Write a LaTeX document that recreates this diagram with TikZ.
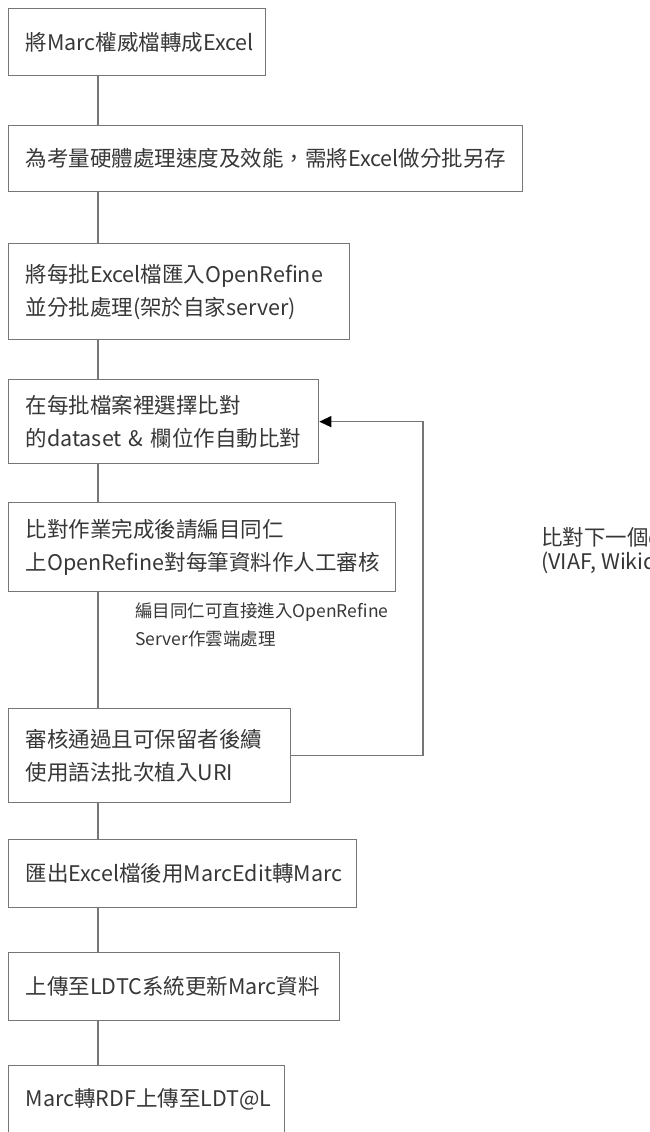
\documentclass[tikz,border=0pt]{standalone}
\usepackage{fontspec}
\setmainfont{Noto Sans CJK TC}
\usepackage{xcolor}
\usepackage{tikz}
\usetikzlibrary{arrows.meta}
\definecolor{boxgray}{RGB}{118,118,118}
\definecolor{textgray}{RGB}{55,55,55}
\tikzset{
  stepbox/.style 2 args={draw=boxgray, line width=1.3pt, anchor=north west, align=left,
    text width=#1pt-34pt, minimum height=#2pt, inner xsep=17pt, inner ysep=0pt,
    text=textgray, font=\fontsize{21.5}{33}\selectfont},
  flow/.style={draw=boxgray, line width=1.3pt}
}

\begin{document}
\begin{tikzpicture}[x=1pt,y=-1pt]
    \clip (0,0) rectangle (649,1132);
    \coordinate (sp) at (98,0);
    \coordinate (rt) at (423,0);
    \node[stepbox={257}{67}] (b1) at (8,8) {將Marc權威檔轉成Excel};
    \node[stepbox={514}{66}] (b2) at (8,125) {為考量硬體處理速度及效能，需將Excel做分批另存};
    \node[stepbox={341}{96}] (b3) at (8,243) {將每批Excel檔匯入OpenRefine\\並分批處理(架於自家server)};
    \node[stepbox={310}{84}] (b4) at (8,379) {在每批檔案裡選擇比對\\的dataset~\&~欄位作自動比對};
    \node[stepbox={387}{89}] (b5) at (8,502) {比對作業完成後請編目同仁\\上OpenRefine對每筆資料作人工審核};
    \node[stepbox={282}{94}] (b6) at (8,708) {審核通過且可保留者後續\\使用語法批次植入URI};
    \node[stepbox={348}{68}] (b7) at (8,839) {匯出Excel檔後用MarcEdit轉Marc};
    \node[stepbox={331}{68}] (b8) at (8,952) {上傳至LDTC系統更新Marc資料};
    \node[stepbox={276}{68}] (b9) at (8,1065) {Marc轉RDF上傳至LDT@L};
    \node[anchor=north west, inner sep=0pt, align=left, text=textgray,
      font=\fontsize{17.5}{28}\selectfont] (note) at (135,603)
      {編目同仁可直接進入OpenRefine\\Server作雲端處理};
    \node[anchor=north west, inner sep=0pt, align=left, text=textgray,
      font=\fontsize{21.5}{24}\selectfont] (loop) at (541,527)
      {比對下一個dataset\\(VIAF, Wikidata)};
    \foreach \a/\b in {b1/b2,b2/b3,b3/b4,b4/b5,b5/b6,b6/b7,b7/b8,b8/b9}
      \draw[flow] (\a.south -| sp) -- (\b.north -| sp);
    \draw[flow,-{Triangle[length=12pt,width=11pt,color=black]}] (b6.east) -- (b6.east -| rt) |- (b4.east);
  \end{tikzpicture}
\end{document}
